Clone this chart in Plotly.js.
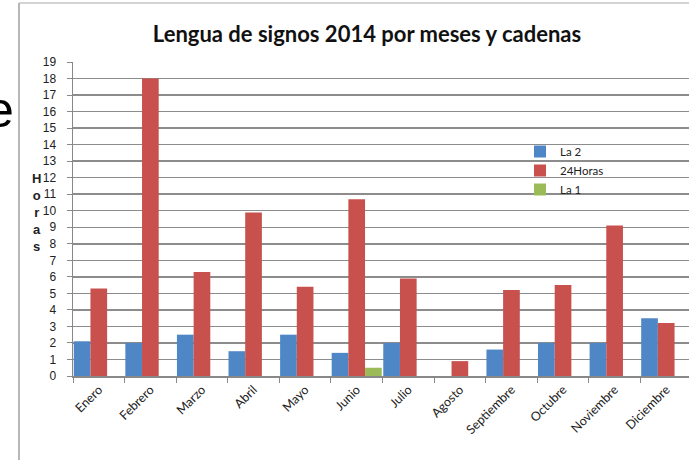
<!DOCTYPE html>
<html>
<head>
<meta charset="utf-8">
<script src="https://cdn.plot.ly/plotly-3.0.1.min.js"></script>
<style>
html,body{margin:0;padding:0;overflow:hidden;background:#fff;width:689px;height:460px;}
#chart{width:700px;height:460px;}
</style>
</head>
<body>
<div id="chart"></div>
<script>
const months = ["Enero","Febrero","Marzo","Abril","Mayo","Junio","Julio","Agosto","Septiembre","Octubre","Noviembre","Diciembre"];
const la2 = [2.1, 2.0, 2.5, 1.5, 2.5, 1.4, 2.0, 0, 1.6, 2.0, 2.0, 3.5];
const horas24 = [5.3, 18.0, 6.3, 9.9, 5.4, 10.7, 5.9, 0.9, 5.2, 5.5, 9.1, 3.2];
const la1 = [0, 0, 0, 0, 0, 0.5, 0, 0, 0, 0, 0, 0];
const seriesNames = ["La 2", "24Horas", "La 1"];
const titleText = "Lengua de signos 2014 por meses y cadenas";
const yTitle = "Horas";

const W = 700, H = 460, L = 73, R = 8, T = 62, B = 84;
const pw = W - L - R, ph = H - T - B;
const px = x => (x - L) / pw;          // pixel -> paper x
const py = y => (H - B - y) / ph;      // pixel -> paper y

const narrow = "'Liberation Sans Narrow', Arial, sans-serif";
const human = "Lato, 'Open Sans', Arial, sans-serif";

const traces = [
  {type:'bar', name:seriesNames[0], x:months, y:la2, marker:{color:'#4F86C6'}},
  {type:'bar', name:seriesNames[1], x:months, y:horas24, marker:{color:'#C8504D'}},
  {type:'bar', name:seriesNames[2], x:months, y:la1, marker:{color:'#9BBB59'}}
];

const layout = {
  width: W, height: H,
  margin: {l:L, r:R, t:T, b:B, pad:0},
  paper_bgcolor:'#fff', plot_bgcolor:'#fff',
  font: {family: human, size: 11, color:'#222'},
  barmode:'group', bargap:0.03, bargroupgap:0,
  showlegend:true,
  legend:{x:px(520), y:py(137), xanchor:'left', yanchor:'top', bgcolor:'rgba(0,0,0,0)',
          font:{family:human, size:11.5, color:'#222'}, tracegroupgap:0, itemwidth:30},
  title:{text:'<b>'+titleText+'</b>', font:{family:human, size:22, color:'#111'},
         xref:'paper', x:px(367), xanchor:'center', yref:'container', y:1-34/H, yanchor:'middle'},
  xaxis:{type:'category', tickson:'boundaries', ticks:'outside', ticklen:5, tickcolor:'#888',
         tickangle:-45, showgrid:false, showline:true, linecolor:'#888', linewidth:1.5,
         tickfont:{family:human, size:12.5, color:'#222'}, fixedrange:true},
  yaxis:{range:[0,19], dtick:1, ticks:'outside', ticklen:5, tickcolor:'#888',
         showgrid:true, gridcolor:'#8c8c8c', gridwidth:1.5, zeroline:false,
         showline:true, linecolor:'#888', linewidth:1.5, ticklabelstandoff:8,
         tickfont:{family:narrow, size:12, color:'#222'}, fixedrange:true},
  annotations:[
    {text:'<b>'+yTitle.split('').join('<br>')+'</b>', xref:'paper', yref:'paper',
     x:px(36), y:py(212), xanchor:'center', yanchor:'middle', showarrow:false,
     font:{family:narrow, size:13, color:'#222'}},
    {text:'e', xref:'paper', yref:'paper', x:px(16), y:py(110), xanchor:'right', yanchor:'middle',
     showarrow:false, font:{family:'Liberation Sans, Arial, sans-serif', size:50, color:'#000'}}
  ],
  shapes:[
    {type:'line', xref:'paper', yref:'paper', x0:px(19), x1:px(19), y0:py(3), y1:py(470),
     line:{color:'#888', width:1.2}},
    {type:'line', xref:'paper', yref:'paper', x0:px(19), x1:px(720), y0:py(3), y1:py(3),
     line:{color:'#aaa', width:1.2}}
  ]
};

Plotly.newPlot('chart', traces, layout, {displayModeBar:false, staticPlot:true});
</script>
</body>
</html>
